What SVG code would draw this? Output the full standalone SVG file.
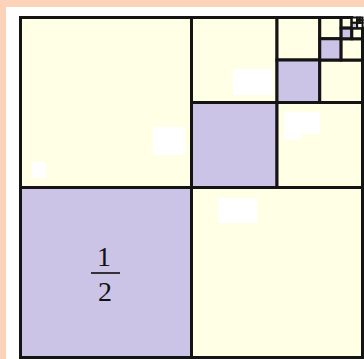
<svg xmlns="http://www.w3.org/2000/svg" width="364" height="359" viewBox="0 0 364 359">
<style>
.c{fill:#ffffe6;stroke:#141414;stroke-width:3}
.p{fill:#cbc4e7;stroke:#141414;stroke-width:3}
.s{stroke-width:2}
.b{fill:#ffffff}
.t{font-family:"Liberation Serif","Times New Roman",serif;font-size:28px;fill:#111;text-anchor:middle}
</style>
<rect x="0" y="0" width="364" height="359" fill="#fcd2b8"/>
<rect x="6" y="7" width="358" height="352" fill="#ffffff"/>
<g id="level0">
<rect class="c" x="20.5" y="17.5" width="171" height="170"/>
<rect class="p" x="20.5" y="187.5" width="171" height="170"/>
<rect class="c" x="191.5" y="187.5" width="171" height="170"/>
</g>
<g id="level1">
<rect class="c" x="191.5" y="17.5" width="85.5" height="85"/>
<rect class="p" x="191.5" y="102.5" width="85.5" height="85"/>
<rect class="c" x="277" y="102.5" width="85.5" height="85"/>
</g>
<g id="level2">
<rect class="c" x="277" y="17.5" width="42.75" height="42.5"/>
<rect class="p" x="277" y="60" width="42.75" height="42.5"/>
<rect class="c" x="319.75" y="60" width="42.75" height="42.5"/>
</g>
<g id="level3">
<rect class="c" x="319.75" y="17.5" width="21.375" height="21.25"/>
<rect class="p" x="319.75" y="38.75" width="21.375" height="21.25"/>
<rect class="c" x="341.125" y="38.75" width="21.375" height="21.25"/>
</g>
<g id="level4">
<rect class="c" x="341.125" y="17.5" width="10.69" height="10.625"/>
<rect class="p" x="341.125" y="28.125" width="10.69" height="10.625"/>
<rect class="c" x="351.81" y="28.125" width="10.69" height="10.625"/>
</g>
<g id="level5">
<rect class="c s" x="351.81" y="17.5" width="5.35" height="5.31"/>
<rect class="p s" x="351.81" y="22.81" width="5.35" height="5.31"/>
<rect class="c s" x="357.16" y="22.81" width="5.35" height="5.31"/>
</g>
<g id="level6">
<rect class="c s" x="357.16" y="17.5" width="2.67" height="2.66"/>
<rect class="p s" x="357.16" y="20.16" width="2.67" height="2.66"/>
<rect class="c s" x="359.83" y="20.16" width="2.67" height="2.66"/>
<rect class="c s" x="359.83" y="17.5" width="2.67" height="2.66"/>
</g>
<g id="patches">
<rect class="b" x="153" y="127" width="32" height="28"/>
<rect class="b" x="32" y="162" width="14" height="16"/>
<rect class="b" x="218" y="198" width="39" height="25"/>
<rect class="b" x="233" y="69" width="40" height="26"/>
<rect class="b" x="284" y="112" width="36" height="22"/>
<rect class="b" x="284" y="133" width="17" height="7"/>
</g>
<g id="label">
<text class="t" x="104" y="266">1</text>
<line x1="91" y1="273" x2="120" y2="273" stroke="#222" stroke-width="1.8"/>
<text class="t" x="105" y="301">2</text>
</g>
</svg>
